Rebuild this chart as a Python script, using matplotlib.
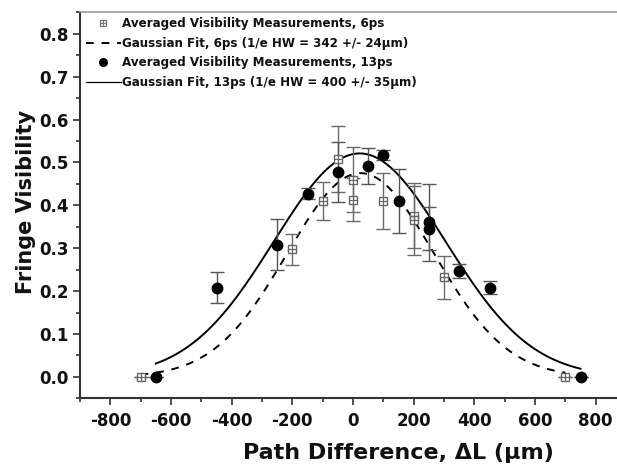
import numpy as np
import matplotlib
matplotlib.use("Agg")
import matplotlib.pyplot as plt
from matplotlib.ticker import MultipleLocator, FormatStrFormatter
from matplotlib.lines import Line2D

plt.rcParams['font.family'] = ['DejaVu Sans']
plt.rcParams['axes.unicode_minus'] = False

# 6ps averaged visibility (path difference um, visibility, error)
x_6ps   = [-700, -200, -100, -50, 0, 0, 100, 200, 200, 300, 700]
v_6ps   = [0.0, 0.297, 0.41, 0.508, 0.46, 0.4125, 0.41, 0.376, 0.365, 0.232, 0.0]
err_6ps = [0.0, 0.036, 0.045, 0.078, 0.075, 0.05, 0.066, 0.075, 0.08, 0.05, 0.0]

# 13ps averaged visibility
x_13ps   = [-650, -450, -250, -150, -50, 50, 100, 150, 250, 250, 350, 450, 750]
v_13ps   = [0.0, 0.208, 0.308, 0.427, 0.477, 0.491, 0.517, 0.41, 0.36, 0.345, 0.247, 0.208, 0.0]
err_13ps = [0.0, 0.036, 0.06, 0.013, 0.07, 0.042, 0.011, 0.075, 0.09, 0.05, 0.017, 0.015, 0.0]

# gaussian fit parameters: amplitude, centre (um), 1/e half width (um), plotted range
fit_6ps  = dict(amp=0.475, x0=25.0, hw=342.0, lo=-700, hi=700)
fit_13ps = dict(amp=0.521, x0=22.0, hw=400.0, lo=-650, hi=750)

labels = ["Averaged Visibility Measurements, 6ps",
          "Gaussian Fit, 6ps (1/e HW = 342 +/- 24\u03bcm)",
          "Averaged Visibility Measurements, 13ps",
          "Gaussian Fit, 13ps (1/e HW = 400 +/- 35\u03bcm)"]


def gauss_curve(p):
    xx = np.linspace(p["lo"], p["hi"], 400)
    return xx, p["amp"] * np.exp(-((xx - p["x0"]) / p["hw"]) ** 2)


fig = plt.figure(figsize=(6.17, 4.65), dpi=100)
ax = fig.add_axes([80 / 617, 66.7 / 465, 546 / 617, 386 / 465])

# fits
xf, yf = gauss_curve(fit_6ps)
ax.plot(xf, yf, color="black", lw=1.4, dashes=(4, 4), zorder=2)
xf, yf = gauss_curve(fit_13ps)
ax.plot(xf, yf, color="black", lw=1.4, zorder=2)

# 6ps squares with cross
ax.errorbar(x_6ps, v_6ps, yerr=err_6ps, fmt="none", ecolor="#6a6a6a",
            elinewidth=1.0, capsize=5, capthick=1.0, zorder=3)
ax.plot(x_6ps, v_6ps, ls="none", marker="s", ms=6, mfc="white",
        mec="#666666", mew=1.0, zorder=4)
ax.plot(x_6ps, v_6ps, ls="none", marker="+", ms=6,
        mec="#666666", mew=0.9, zorder=5)

# 13ps filled circles
ax.errorbar(x_13ps, v_13ps, yerr=err_13ps, fmt="none", ecolor="#555555",
            elinewidth=1.0, capsize=5, capthick=1.0, zorder=3)
ax.plot(x_13ps, v_13ps, ls="none", marker="o", ms=7.5, color="black", zorder=6)

ax.set_xlim(-900, 900)
ax.set_ylim(-0.05, 0.85)
ax.xaxis.set_major_locator(MultipleLocator(200))
ax.xaxis.set_minor_locator(MultipleLocator(100))
ax.yaxis.set_major_locator(MultipleLocator(0.1))
ax.yaxis.set_minor_locator(MultipleLocator(0.05))
ax.yaxis.set_major_formatter(FormatStrFormatter("%.1f"))

ax.tick_params(which="both", direction="out", color="#333333", width=1.2,
               top=False, right=False, labelsize=12)
ax.tick_params(which="major", length=5, pad=3)
ax.tick_params(which="minor", length=3)
ax.tick_params(axis="x", which="major", pad=5)
for lab in ax.get_xticklabels() + ax.get_yticklabels():
    lab.set_fontweight("bold")
    lab.set_color("#111111")

for s in ["left", "bottom"]:
    ax.spines[s].set_color("#333333")
    ax.spines[s].set_linewidth(1.5)
ax.spines["top"].set_color("#9a9a9a")
ax.spines["top"].set_linewidth(1.2)
ax.spines["right"].set_visible(False)

fig.text(398 / 617, 6 / 465, "Path Difference, \u0394L (\u03bcm)", fontsize=16,
         fontweight="bold", color="#111111", ha="center", va="baseline")
fig.text(26 / 617, 0.566, "Fringe Visibility", fontsize=15, fontweight="bold",
         color="#111111", rotation=90, ha="center", va="center")

# legend handles (smaller markers like the original)
h_sq = Line2D([], [], ls="none", marker="s", ms=4.5, mfc="white", mec="#777777", mew=0.9)
h_pl = Line2D([], [], ls="none", marker="+", ms=4.5, mec="#777777", mew=0.8)
h_ci = Line2D([], [], ls="none", marker="o", ms=5.5, color="black")
h_da = Line2D([], [], color="black", lw=1.4, dashes=(4, 4))
h_so = Line2D([], [], color="black", lw=0.9)

leg = ax.legend([(h_sq, h_pl), h_da, h_ci, h_so], labels, loc="upper left",
                bbox_to_anchor=(6 / 546, 1 - 5 / 386), frameon=False,
                prop=dict(size=8.6, weight="bold"), handlelength=2.9,
                handletextpad=0.15, labelspacing=0.55, borderpad=0,
                borderaxespad=0)
for t in leg.get_texts():
    t.set_color("#111111")

fig.savefig("out.png", dpi=100)
